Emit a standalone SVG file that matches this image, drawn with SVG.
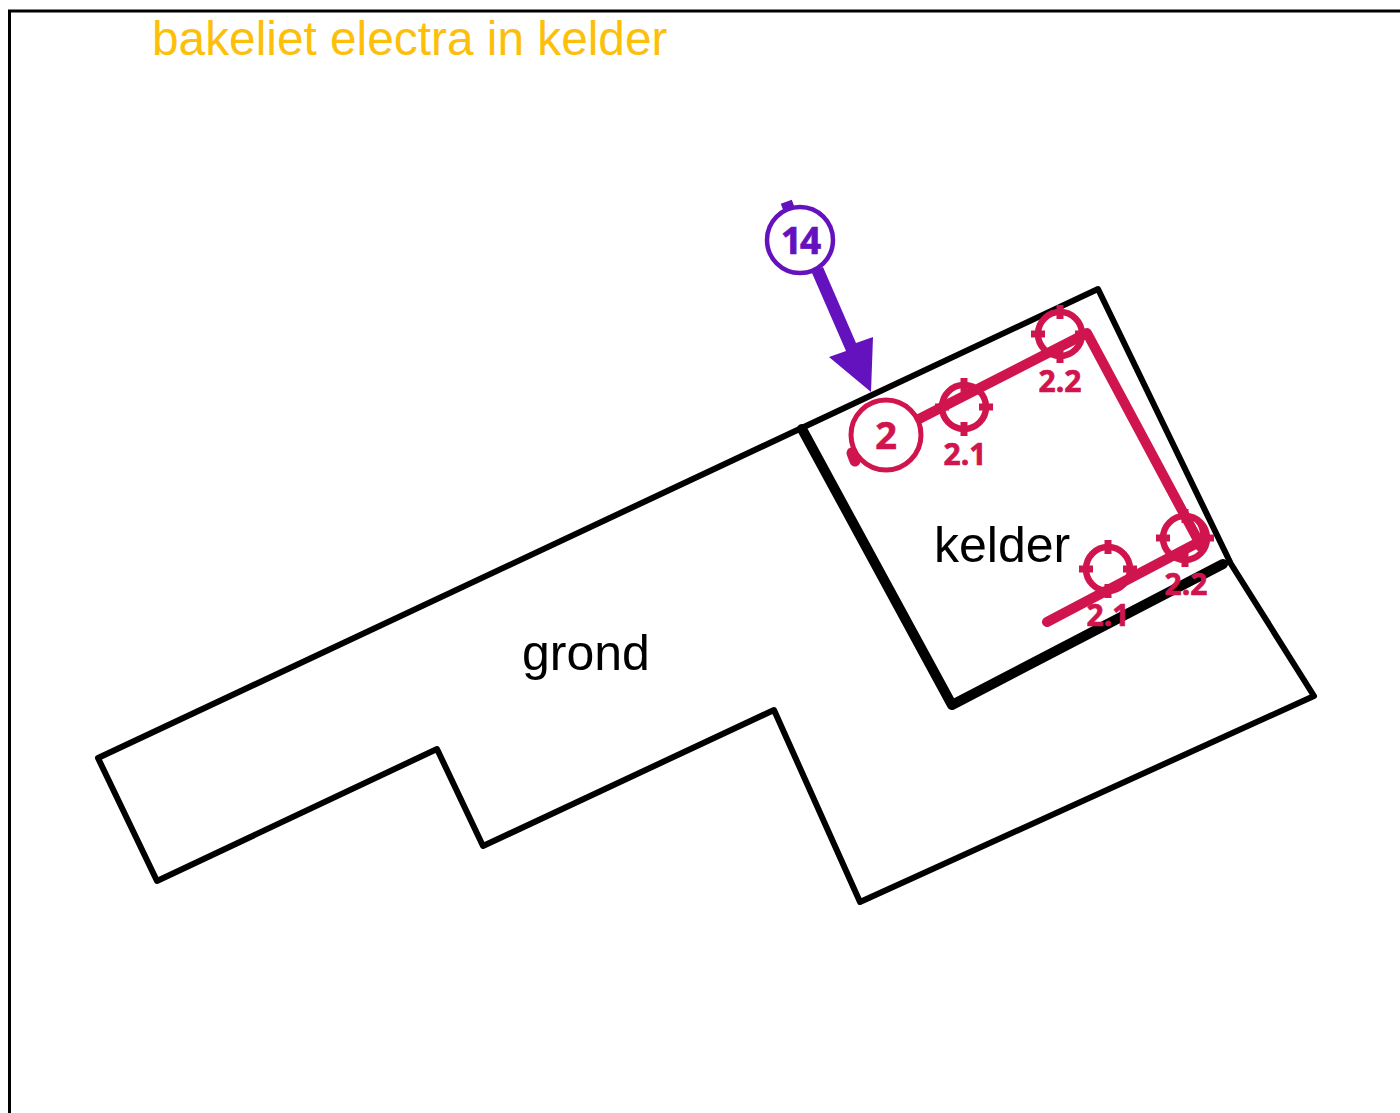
<svg xmlns="http://www.w3.org/2000/svg" width="1400" height="1113" viewBox="0 0 1400 1113">
<style>
.o{fill:none;stroke:#000;stroke-width:6;stroke-linejoin:round;stroke-linecap:round}
.w{fill:none;stroke:#000;stroke-width:10;stroke-linejoin:round;stroke-linecap:round}
.r{fill:none;stroke:#d0144e;stroke-linecap:round;stroke-linejoin:round}
.c{fill:none;stroke:#d0144e;stroke-width:6.500}
.t{fill:none;stroke:#d0144e;stroke-width:7}
.l{font-family:"Open Sans","Noto Sans",sans-serif;font-weight:700;fill:#d0144e;stroke:#d0144e;stroke-width:.7;text-anchor:middle;font-size:30px}
.b{font-family:"Liberation Sans",Arial,sans-serif;font-size:50px;fill:#000}
</style>
<defs>
<g id="target"><circle r="22" class="c"/><path class="t" d="M0-29V-15M0 29V15M-29 0H-15M29 0H15"/></g>
</defs>
<rect x="9.500" y="11" width="1500" height="1200" fill="none" stroke="#000" stroke-width="3"/>
<text x="152" y="55" font-family="Liberation Sans,Arial,sans-serif" font-size="47.800" fill="#fdbf0a">bakeliet electra in kelder</text>
<g id="ground">
<path class="o" d="M98 758L1098 289L1231 564L1314 696L860 902L774 710L483 846L437 749L157 881Z"/>
<text x="522" y="670" class="b">grond</text>
</g>
<g id="cellar">
<path class="w" d="M802 429L952 705L1223 564"/>
<text x="934" y="562" class="b">kelder</text>
</g>
<g id="connectors">
<path class="r" stroke-width="10" d="M917 420L1087 333L1199 542L1047 622"/>
</g>
<g id="n2">
<path class="r" stroke-width="11" d="M852 453L855 461"/>
<circle cx="886" cy="435" r="35" fill="#fff" stroke="#d0144e" stroke-width="5"/>
<text x="886" y="449" class="l" style="font-size:38px">2</text>
</g>
<g id="n21a"><use href="#target" x="964" y="407"/><text x="965" y="465" class="l">2.1</text></g>
<g id="n22a"><use href="#target" x="1060" y="334"/><text x="1060" y="392" class="l">2.2</text></g>
<g id="n21b"><use href="#target" x="1108" y="569"/><text x="1108" y="626" class="l">2.1</text></g>
<g id="n22b"><use href="#target" x="1185" y="538"/><path class="r" stroke-width="6" d="M1197 520A22 22 0 0 1 1199 548"/><text x="1186" y="595" class="l">2.2</text></g>
<g id="n14">
<path d="M812 273L823 267L856 343L873 337L871 392L829 357L846 351Z" fill="#6412bd"/>
<path d="M782 207L793 203" stroke="#6412bd" stroke-width="7" fill="none"/>
<circle cx="800" cy="240" r="33" fill="#fff" stroke="#6412bd" stroke-width="4.500"/>
<text x="800" y="254" font-family="Open Sans,Noto Sans,sans-serif" font-weight="700" font-size="37" letter-spacing="-2" text-anchor="middle" fill="#6412bd" stroke="#6412bd" stroke-width=".7">14</text>
</g>
</svg>
